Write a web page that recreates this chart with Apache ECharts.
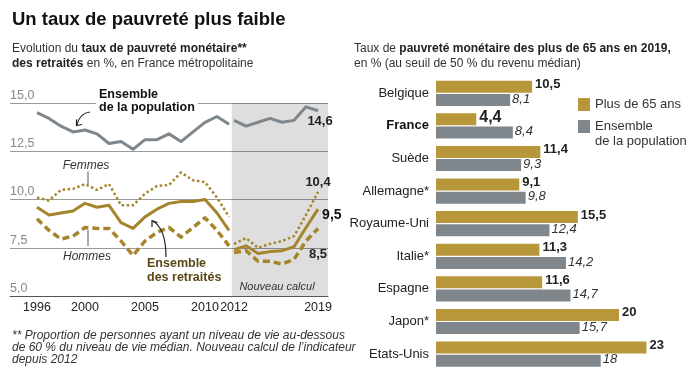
<!DOCTYPE html>
<html><head><meta charset="utf-8">
<script src="https://cdn.jsdelivr.net/npm/echarts@6/dist/echarts.min.js"></script>
<style>html,body{margin:0;padding:0;background:#fff}#c{width:700px;height:384px}</style>
</head><body><div id="c"></div>
<script>
// ---------- Left chart data ----------
const yearsOld = [1996,1997,1998,1999,2000,2001,2002,2003,2004,2005,2006,2007,2008,2009,2010,2011,2012];
const popOld = [14.5,14.2,13.8,13.5,13.6,13.4,12.9,13.0,12.6,13.1,13.1,13.4,13.0,13.5,14.0,14.3,13.9];
const retOld = [9.6,9.2,9.3,9.4,9.8,9.6,9.7,8.8,8.5,9.1,9.5,9.8,9.9,9.9,10.0,9.3,8.4];
const femOld = [10.1,9.95,10.5,10.55,10.8,10.5,10.8,9.7,9.7,10.3,10.7,10.75,11.4,11.0,10.9,10.1,9.1];
const homOld = [9.0,8.4,7.95,8.1,8.55,8.5,8.5,7.85,7.1,7.85,8.3,8.55,8.05,8.55,9.05,8.4,7.6];

const yearsNew = [2012,2013,2014,2015,2016,2017,2018,2019];
const popNew = [14.1,13.8,14.0,14.2,14.0,14.1,14.8,14.6];
const retNew = [7.4,7.6,7.2,7.3,7.35,7.55,8.55,9.5];
const femNew = [7.7,8.0,7.5,7.7,7.85,8.1,9.2,10.4];
const homNew = [7.25,7.35,6.8,6.8,6.65,6.9,7.85,8.5];

const xTickLabels = ['1996','2000','2005','2010','2012','2019'];
const yTicks = [5, 7.5, 10, 12.5, 15];

// ---------- Right chart data ----------
const countries = ['Belgique','France','Suède','Allemagne*','Royaume-Uni','Italie*','Espagne','Japon*','Etats-Unis'];
const plus65 = [10.5,4.4,11.4,9.1,15.5,11.3,11.6,20,23];
const ensemble = [8.1,8.4,9.3,9.8,12.4,14.2,14.7,15.7,18];
const highlightCountry = 'France';

// ---------- Styling / layout ----------
const GOLD_LINE = '#a5852c';
const GOLD_BAR = '#b8963a';
const GREY = '#7f878c';
const NEW_SHIFT = 0.42;         // visual gap between old and new calculation
const FONT = 'Liberation Sans';
const NARROW = '"Liberation Sans Narrow", "Liberation Sans", sans-serif';
const fmt = v => String(v).replace('.', ',');

function lineSeries(name, years, vals, shift, lineStyle, endLabel) {
  const last = vals.length - 1;
  const s = {
    type: 'line', name: name, xAxisIndex: 0, yAxisIndex: 0,
    data: years.map((y, i) => [y + shift, vals[i]]),
    symbol: 'none', silent: true,
    lineStyle: Object.assign({join: 'round'}, lineStyle),
    z: 3
  };
  if (endLabel) {
    s.symbol = 'circle';
    s.symbolSize = 0.1;
    s.showSymbol = true;
    s.showAllSymbol = true;
    s.itemStyle = {color: lineStyle.color};
    s.label = Object.assign({
      show: true,
      formatter: p => p.dataIndex === last ? fmt(p.value[1]) : '',
      fontFamily: NARROW, fontWeight: 'bold', fontSize: 13, color: '#222'
    }, endLabel);
  }
  return s;
}

const xCustom = xTickLabels.map(t => {
  const y = +t;
  return y >= yearsNew[0] ? y + NEW_SHIFT : y;
});

const series = [
  lineSeries('Population (ancien)', yearsOld, popOld, 0, {color: GREY, width: 3}),
  lineSeries('Population (nouveau)', yearsNew, popNew, NEW_SHIFT, {color: GREY, width: 3},
    {position: 'bottom', distance: 4, offset: [2, 0]}),
  lineSeries('Femmes (ancien)', yearsOld, femOld, 0, {color: GOLD_LINE, width: 2.5, type: [2.5, 2.5]}),
  lineSeries('Femmes (nouveau)', yearsNew, femNew, NEW_SHIFT, {color: GOLD_LINE, width: 2.5, type: [2.5, 2.5]},
    {position: 'top', distance: 3}),
  lineSeries('Hommes (ancien)', yearsOld, homOld, 0, {color: GOLD_LINE, width: 3.5, type: [7, 4]}),
  lineSeries('Hommes (nouveau)', yearsNew, homNew, NEW_SHIFT, {color: GOLD_LINE, width: 3.5, type: [7, 4]},
    {position: 'bottom', distance: 19}),
  lineSeries('Retraités (ancien)', yearsOld, retOld, 0, {color: GOLD_LINE, width: 3}),
  lineSeries('Retraités (nouveau)', yearsNew, retNew, NEW_SHIFT, {color: GOLD_LINE, width: 3},
    {position: 'right', distance: 4, offset: [0, 6], fontSize: 14, color: '#111'})
];

// shaded "Nouveau calcul" zone
const X_MIN = 1993.75, X_MAX = 2020.25;
series[0].markArea = {
  silent: true,
  itemStyle: {color: 'rgba(0,0,0,0.13)'},
  data: [[{xAxis: yearsOld[yearsOld.length - 1] + NEW_SHIFT * 0.55, yAxis: yTicks[0]},
          {xAxis: X_MAX, yAxis: yTicks[yTicks.length - 1]}]]
};

series.push({
  type: 'bar', name: 'Plus de 65 ans', xAxisIndex: 1, yAxisIndex: 1,
  data: plus65.map((v, i) => countries[i] === highlightCountry ? {value: v, label: {fontSize: 16}} : v),
  barWidth: 12, barGap: '10%',
  itemStyle: {color: GOLD_BAR},
  label: {show: true, position: 'right', distance: 3, offset: [0, -2], formatter: p => fmt(p.value),
          fontFamily: NARROW, fontWeight: 'bold', fontSize: 13, color: '#222'}
});
series.push({
  type: 'bar', name: 'Ensemble de la population', xAxisIndex: 1, yAxisIndex: 1,
  data: ensemble.slice(),
  barWidth: 12,
  itemStyle: {color: GREY},
  label: {show: true, position: 'right', distance: 2, offset: [0, -1], formatter: p => fmt(p.value),
          fontFamily: NARROW, fontStyle: 'italic', fontSize: 13, color: '#333'}
});

const option = {
  animation: false,
  backgroundColor: '#fff',
  textStyle: {fontFamily: FONT},
  title: [
    {text: 'Un taux de pauvreté plus faible', left: 12, top: 10, padding: 0,
     textStyle: {fontFamily: FONT, fontSize: 18.5, fontWeight: 'bold', color: '#111'}},
    {text: 'Evolution du {b|taux de pauvreté monétaire**}\n{b|des retraités} en %, en France métropolitaine',
     left: 12, top: 41, padding: 0,
     textStyle: {fontFamily: FONT, fontSize: 12, lineHeight: 15, color: '#333', fontWeight: 'normal',
                 rich: {b: {fontFamily: FONT, fontSize: 12, lineHeight: 15, fontWeight: 'bold', color: '#222'}}}},
    {text: 'Taux de {b|pauvreté monétaire des plus de 65 ans en 2019,}\nen % (au seuil de 50 % du revenu médian)',
     left: 354, top: 41, padding: 0,
     textStyle: {fontFamily: FONT, fontSize: 12, lineHeight: 15, color: '#333', fontWeight: 'normal',
                 rich: {b: {fontFamily: FONT, fontSize: 12, lineHeight: 15, fontWeight: 'bold', color: '#222'}}}},
    {text: '** Proportion de personnes ayant un niveau de vie au-dessous\nde 60 % du niveau de vie médian. Nouveau calcul de l’indicateur\ndepuis 2012',
     left: 12, top: 330, padding: 0,
     textStyle: {fontFamily: FONT, fontSize: 12, lineHeight: 11.8, fontStyle: 'italic', fontWeight: 'normal', color: '#333'}}
  ],
  legend: {
    orient: 'vertical', left: 578, top: 97, padding: 0,
    itemWidth: 12, itemHeight: 13, itemGap: -8, icon: 'rect',
    selectedMode: false,
    textStyle: {fontFamily: NARROW, fontSize: 13, lineHeight: 15, color: '#333'},
    formatter: n => n === 'Ensemble de la population' ? ' \nEnsemble\nde la population' : n,
    data: [{name: 'Plus de 65 ans'}, {name: 'Ensemble de la population'}]
  },
  grid: [
    {left: 10, right: 372, top: 103, bottom: 88},
    {left: 436, right: 35.25, top: 77, bottom: 13.6}
  ],
  xAxis: [
    {type: 'value', gridIndex: 0, min: X_MIN, max: X_MAX,
     axisLine: {show: true, lineStyle: {color: '#555', width: 1}},
     axisTick: {show: false}, splitLine: {show: false},
     axisLabel: {customValues: xCustom, formatter: v => String(Math.floor(v)),
                 color: '#222', fontSize: 12.5, fontFamily: NARROW, margin: 5}},
    {type: 'value', gridIndex: 1, min: 0, max: 25, show: false}
  ],
  yAxis: [
    {type: 'value', gridIndex: 0, min: yTicks[0], max: yTicks[yTicks.length - 1], interval: 2.5,
     axisLine: {show: false}, axisTick: {show: false},
     splitLine: {show: true, lineStyle: {color: '#9a9a9a', width: 1}},
     axisLabel: {inside: true, margin: 0, verticalAlign: 'bottom', align: 'left', padding: [0, 0, 1, 0],
                 formatter: v => v.toFixed(1).replace('.', ','), color: '#888', fontSize: 12.5, fontFamily: NARROW}},
    {type: 'category', gridIndex: 1, data: countries, inverse: true,
     axisLine: {show: false}, axisTick: {show: false},
     axisLabel: {margin: 7, color: '#222', fontSize: 13, fontFamily: NARROW,
                 formatter: v => v === highlightCountry ? '{b|' + v + '}' : v,
                 rich: {b: {fontWeight: 'bold', fontSize: 13, fontFamily: NARROW, color: '#111'}}}}
  ],
  graphic: [
    {type: 'text', left: 96, top: 88, z: 5,
     style: {text: 'Ensemble\nde la population', font: 'bold 12.5px ' + FONT, lineHeight: 13, fill: '#111',
             backgroundColor: '#fff', padding: [0, 3]}},
    {type: 'bezierCurve', z: 5, shape: {x1: 90, y1: 112, x2: 77, y2: 124.5, cpx1: 80, cpy1: 113},
     style: {stroke: '#222', lineWidth: 1.2, fill: null}},
    {type: 'polyline', z: 5, shape: {points: [[76.5, 119.5], [76.5, 125.5], [82, 124.5]]},
     style: {stroke: '#222', lineWidth: 1.2, fill: null}},
    {type: 'text', z: 5, x: 86, y: 166,
     style: {text: 'Femmes', font: 'italic 12px ' + FONT, fill: '#333', align: 'center', verticalAlign: 'middle'}},
    {type: 'line', z: 5, shape: {x1: 88, y1: 171.5, x2: 88, y2: 184}, style: {stroke: '#555', lineWidth: 1}},
    {type: 'text', z: 5, x: 87, y: 257,
     style: {text: 'Hommes', font: 'italic 12px ' + FONT, fill: '#333', align: 'center', verticalAlign: 'middle'}},
    {type: 'line', z: 5, shape: {x1: 88, y1: 230, x2: 88, y2: 246}, style: {stroke: '#555', lineWidth: 1}},
    {type: 'text', z: 5, left: 147, top: 257,
     style: {text: 'Ensemble\ndes retraités', font: 'bold 12.5px ' + FONT, lineHeight: 13.5, fill: '#5a4816'}},
    {type: 'bezierCurve', z: 5, shape: {x1: 166, y1: 257, x2: 152.5, y2: 221, cpx1: 166, cpy1: 228},
     style: {stroke: '#222', lineWidth: 1.2, fill: null}},
    {type: 'polyline', z: 5, shape: {points: [[152, 227], [152, 220.5], [157.5, 222.5]]},
     style: {stroke: '#222', lineWidth: 1.2, fill: null}},
    {type: 'text', z: 5, x: 277, y: 287,
     style: {text: 'Nouveau calcul', font: 'italic 11px ' + FONT, fill: '#333', align: 'center', verticalAlign: 'middle'}}
  ],
  series: series
};

const chart = echarts.init(document.getElementById('c'), null, {renderer: 'canvas'});
chart.setOption(option);
</script>
</body></html>
